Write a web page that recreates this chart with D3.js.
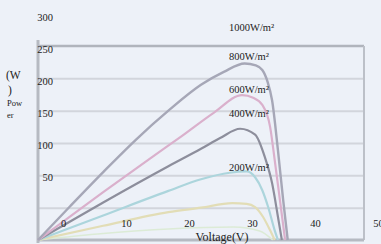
<!DOCTYPE html>
<html><head><meta charset="utf-8">
<script src="https://cdn.jsdelivr.net/npm/d3@7"></script>
<style>
html,body{margin:0;padding:0;background:#edf1f8;}
svg{display:block;font-family:"Liberation Serif","DejaVu Serif",serif;}
</style></head>
<body><svg id="c" width="381" height="244"></svg>
<script>
// ---- data ----
const yTickLabels = [50, 100, 150, 200, 250, 300];
const xTickLabels = [0, 10, 20, 30, 40, 50];
const seriesNames = ["1000W/m²", "800W/m²", "600W/m²", "400W/m²", "200W/m²"];
const v1000 = [0, 5, 10, 15, 20, 25, 28.5, 31.7, 33.4, 34.4, 35.2, 35.9, 36.8, 37.6, 38.3];
const p1000 = [0, 53, 105, 155, 200, 240, 260, 273, 270, 263, 245, 216, 139, 62, 0];
const v800 = [0, 5, 10, 17.6, 22.1, 27, 31.3, 33, 34.4, 35.6, 36.3, 37.1, 37.9];
const p800 = [0, 37, 74, 129, 161, 197, 224, 220, 209, 175, 124, 62, 0];
const v600 = [0, 10, 20, 25, 28, 31, 33.3, 34.8, 35.9, 36.8, 37.4];
const p600 = [0, 58, 114, 141, 158, 172, 163, 128, 88, 36, 0];
const v400 = [0, 10, 20, 25, 29.4, 32, 33.3, 34.4, 35.3, 36.3, 36.8];
const p400 = [0, 38, 76, 94, 104, 106, 97, 77, 51, 15, 0];
const v200 = [0, 10, 20, 25, 29.8, 32, 33.3, 34.5, 35.6, 36.3];
const p200 = [0, 22, 43, 50, 57, 56, 51, 36, 15, 0];
const vLow = [0, 10, 20, 30, 34, 36];
const pLow = [0, 10, 17, 20, 14, 0];

// ---- layout ----
const svg = d3.select("#c");
const L = 38, R = 364, T = 46, B = 240;
const x = d3.scaleLinear().domain([0, 50]).range([L, R]);
const y = d3.scaleLinear().domain([0, 300]).range([B, T]);

// gridlines
const grid = svg.append("g").attr("transform", `translate(${L},0)`)
  .call(d3.axisLeft(y).tickValues([50,100,150,200,250]).tickSize(-(R - L)).tickFormat(""));
grid.select(".domain").remove();
grid.selectAll("line").attr("stroke", "#d2d5dc").attr("stroke-width", 2);

// frame
svg.append("line").attr("x1", L).attr("x2", R).attr("y1", y(300)).attr("y2", y(300))
  .attr("stroke", "#b0b4bc").attr("stroke-width", 2.5);
svg.append("line").attr("x1", R).attr("x2", R).attr("y1", T).attr("y2", B)
  .attr("stroke", "#bcc0c8").attr("stroke-width", 2);
svg.append("line").attr("x1", L).attr("x2", L).attr("y1", 40).attr("y2", 243)
  .attr("stroke", "#b6bac2").attr("stroke-width", 3);
svg.append("line").attr("x1", L).attr("x2", R).attr("y1", B).attr("y2", B)
  .attr("stroke", "#b6bac2").attr("stroke-width", 3);

// curves
const line = d3.line().x(d => x(d[0])).y(d => y(d[1])).curve(d3.curveMonotoneX);
const series = [
  {v: vLow, p: pLow, c: "#dcebd6", w: 1.6},
  {v: v200, p: p200, c: "#e2ddb6", w: 2.2},
  {v: v400, p: p400, c: "#acd5dc", w: 2.2},
  {v: v600, p: p600, c: "#8d8e9c", w: 2.2},
  {v: v800, p: p800, c: "#dab0cc", w: 2.2},
  {v: v1000, p: p1000, c: "#a6a7b7", w: 2.4}
];
series.forEach(s => {
  svg.append("path").datum(s.v.map((v, i) => [v, s.p[i]]))
    .attr("d", line).attr("fill", "none").attr("stroke", s.c)
    .attr("stroke-width", s.w).attr("stroke-linejoin", "round");
});

// y tick labels (shifted one step up, as in the picture)
const yLab = d3.scaleLinear().domain([50, 300]).range([y(100) + 2, y(350) + 3]);
const ya = svg.append("g").attr("transform", "translate(53,0)")
  .call(d3.axisLeft(yLab).tickValues(yTickLabels).tickSize(0).tickPadding(0).tickFormat(d3.format("d")));
ya.select(".domain").remove();
ya.selectAll("text").attr("font-size", 10.5).attr("fill", "#222")
  .attr("font-family", "Liberation Serif, serif");

// x tick labels
const xLab = d3.scaleLinear().domain([0, 50]).range([63, 378]);
const xa = svg.append("g").attr("transform", "translate(0,220)")
  .call(d3.axisBottom(xLab).tickValues(xTickLabels).tickSize(0).tickPadding(0).tickFormat(d3.format("d")));
xa.select(".domain").remove();
xa.selectAll("text").attr("font-size", 10.5).attr("fill", "#222")
  .attr("font-family", "Liberation Serif, serif");

// series labels
const labY = [27, 56, 89, 113, 167];
seriesNames.forEach((n, i) => {
  svg.append("text").attr("x", 229).attr("y", labY[i]).attr("dy", "0.35em")
    .attr("font-size", 10.5).attr("fill", "#222").text(n);
});

// axis titles
svg.append("text").attr("x", 222).attr("y", 241).attr("text-anchor", "middle")
  .attr("font-size", 12).attr("fill", "#222").text("Voltage(V)");
svg.append("text").attr("x", 6).attr("y", 79).attr("font-size", 11.5).attr("fill", "#222").text("(W");
svg.append("text").attr("x", 8).attr("y", 94).attr("font-size", 11.5).attr("fill", "#222").text(")");
svg.append("text").attr("x", 7).attr("y", 106).attr("font-size", 8.5).attr("fill", "#222").text("Pow");
svg.append("text").attr("x", 7).attr("y", 118).attr("font-size", 8.5).attr("fill", "#222").text("er");
</script></body></html>
